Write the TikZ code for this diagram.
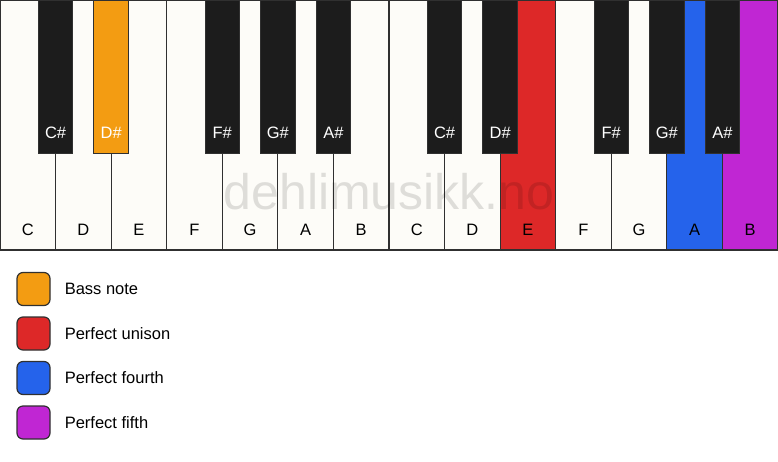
\documentclass[tikz,border=0pt]{standalone}
\usepackage{fontspec}
\setmainfont{Liberation Sans}
\usetikzlibrary{positioning}
\definecolor{keywhite}{HTML}{FDFCF8}
\definecolor{keyblack}{HTML}{1C1C1C}
\definecolor{keyline}{HTML}{303030}
\definecolor{bassorange}{HTML}{F39C12}
\definecolor{unisonred}{HTML}{DD2828}
\definecolor{fourthblue}{HTML}{2563EB}
\definecolor{fifthpurple}{HTML}{C026D3}

\begin{document}
\begin{tikzpicture}[x=1pt, y=-1pt, font=\fontsize{16.5}{19}\selectfont,
	wkey/.style = {draw=keyline, line width=1.2pt, fill=keywhite, minimum width=55.57pt, minimum height=250pt, inner sep=0pt, outer sep=0pt},
	bkey/.style = {draw=keyline, line width=1pt, fill=keyblack, minimum width=34.5pt, minimum height=153pt, inner sep=0pt, outer sep=0pt, anchor=north},
	wname/.style = {anchor=center, yshift=20pt, text=black},
	bname/.style = {anchor=center, yshift=20pt, text=white},
	swatch/.style = {draw=keyline, line width=1.2pt, rounded corners=6pt, minimum size=33pt, inner sep=0pt}]
	\useasboundingbox (0,0) rectangle (778,461);
	% white keys
	\node[wkey, anchor=north west, label={[wname]south:C}] (C1) at (0,0) {};
	\node[wkey, right=0pt of C1, label={[wname]south:D}] (D1) {};
	\node[wkey, right=0pt of D1, label={[wname]south:E}] (E1) {};
	\node[wkey, right=0pt of E1, label={[wname]south:F}] (F1) {};
	\node[wkey, right=0pt of F1, label={[wname]south:G}] (G1) {};
	\node[wkey, right=0pt of G1, label={[wname]south:A}] (A1) {};
	\node[wkey, right=0pt of A1, label={[wname]south:B}] (B1) {};
	\node[wkey, right=0pt of B1, label={[wname]south:C}] (C2) {};
	\node[wkey, right=0pt of C2, label={[wname]south:D}] (D2) {};
	\node[wkey, right=0pt of D2, fill=unisonred, label={[wname]south:E}] (E2) {};
	\node[wkey, right=0pt of E2, label={[wname]south:F}] (F2) {};
	\node[wkey, right=0pt of F2, label={[wname]south:G}] (G2) {};
	\node[wkey, right=0pt of G2, fill=fourthblue, label={[wname]south:A}] (A2) {};
	\node[wkey, right=0pt of A2, fill=fifthpurple, label={[wname]south:B}] (B2) {};
	% black keys
	\node[bkey, label={[bname]south:C\#}] (Cs1) at (C1.north east) {};
	\node[bkey, fill=bassorange, label={[bname]south:D\#}] (Ds1) at (D1.north east) {};
	\node[bkey, label={[bname]south:F\#}] (Fs1) at (F1.north east) {};
	\node[bkey, label={[bname]south:G\#}] (Gs1) at (G1.north east) {};
	\node[bkey, label={[bname]south:A\#}] (As1) at (A1.north east) {};
	\node[bkey, label={[bname]south:C\#}] (Cs2) at (C2.north east) {};
	\node[bkey, label={[bname]south:D\#}] (Ds2) at (D2.north east) {};
	\node[bkey, label={[bname]south:F\#}] (Fs2) at (F2.north east) {};
	\node[bkey, label={[bname]south:G\#}] (Gs2) at (G2.north east) {};
	\node[bkey, label={[bname]south:A\#}] (As2) at (A2.north east) {};
	% watermark
	\node[text opacity=0.12, font=\fontsize{50}{60}\selectfont] (mark) at (389,192) {dehlimusikk.no};
	% legend
	\node[swatch, fill=bassorange] (bass) at (33.5,289) {};
	\node[swatch, fill=unisonred] (unison) at (33.5,333.5) {};
	\node[swatch, fill=fourthblue] (fourth) at (33.5,378) {};
	\node[swatch, fill=fifthpurple] (fifth) at (33.5,422.5) {};
	\node[right=14pt of bass, inner sep=0pt] (bassText) {Bass note};
	\node[right=14pt of unison, inner sep=0pt] (unisonText) {Perfect unison};
	\node[right=14pt of fourth, inner sep=0pt] (fourthText) {Perfect fourth};
	\node[right=14pt of fifth, inner sep=0pt] (fifthText) {Perfect fifth};
\end{tikzpicture}
\end{document}
